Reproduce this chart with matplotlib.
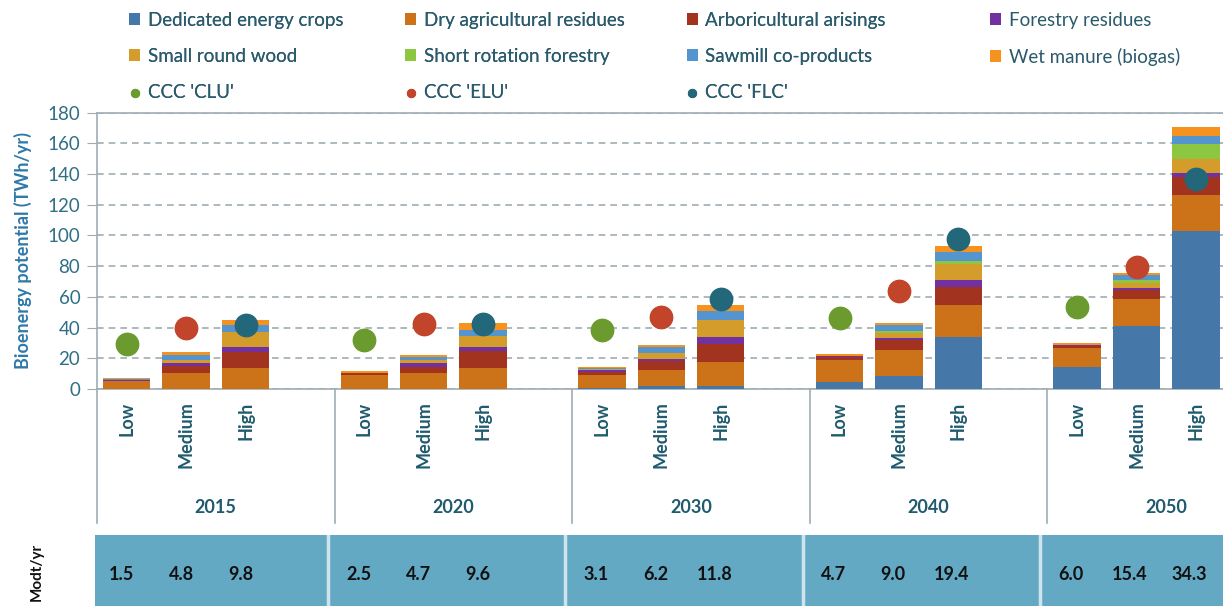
import matplotlib
matplotlib.use('Agg')
import matplotlib.pyplot as plt
import numpy as np

plt.rcParams['font.family'] = ['Lato', 'DejaVu Sans']

years = ['2015', '2020', '2030', '2040', '2050']
levels = ['Low', 'Medium', 'High']

# TWh/yr per feedstock, order: year by year, Low / Medium / High
dedicated = [0, 0, 0, 0, 0, 0, 0.6, 1.7, 2.2, 4.8, 8.7, 33.7, 14.1, 41.3, 102.8]
dry_agri = [5.0, 10.4, 13.7, 9.3, 10.4, 13.7, 8.7, 10.9, 15.4, 14.1, 17.0, 20.7, 12.4, 17.4, 23.3]
arbori = [0.5, 4.3, 10.2, 1.1, 3.9, 10.9, 1.7, 5.9, 11.7, 1.7, 5.9, 12.0, 1.5, 5.9, 12.0]
forestry = [0.3, 2.2, 3.7, 0, 2.6, 2.8, 1.3, 1.3, 4.6, 1.1, 1.7, 4.3, 0.5, 1.3, 2.8]
small_round = [0.3, 1.7, 9.3, 0, 2.2, 7.4, 0.6, 3.7, 10.9, 0, 3.3, 10.9, 0, 3.0, 8.7]
short_rot = [0, 0, 0, 0, 0, 0, 0, 0, 0, 0, 1.1, 1.5, 0, 2.2, 10.2]
sawmill = [0.6, 3.7, 4.6, 0, 2.0, 3.5, 0.8, 3.9, 5.9, 0, 3.7, 6.1, 0.4, 2.8, 4.8]
wet_manure = [0.5, 1.5, 3.3, 1.1, 1.3, 4.6, 0.6, 1.1, 4.3, 1.1, 1.7, 3.9, 0.9, 1.7, 6.1]

ccc_clu = [29, 32, 38.5, 46, 53.5]
ccc_elu = [40, 42, 47, 63.5, 79.5]
ccc_flc = [41.5, 42, 58.5, 97.5, 137]

modt = [1.5, 4.8, 9.8, 2.5, 4.7, 9.6, 3.1, 6.2, 11.8, 4.7, 9.0, 19.4, 6.0, 15.4, 34.3]

series = [
    ('Dedicated energy crops', dedicated, '#4577a8'),
    ('Dry agricultural residues', dry_agri, '#cc7319'),
    ('Arboricultural arisings', arbori, '#a2341f'),
    ('Forestry residues', forestry, '#7131a0'),
    ('Small round wood', small_round, '#d49c2b'),
    ('Short rotation forestry', short_rot, '#8dc640'),
    ('Sawmill co-products', sawmill, '#5494cf'),
    ('Wet manure (biogas)', wet_manure, '#f6931f'),
]

grid_col = '#9eadb3'
tick_col = '#2f6f86'
cat_col = '#1f5a6e'

fig = plt.figure(figsize=(12.23, 6.06), dpi=100)
ax = fig.add_axes([97 / 1223, 1 - 389 / 606, 1 - 97 / 1223, 276.5 / 606])

# bar positions: 4 units per year group, bars at 0.5 / 1.5 / 2.5
xpos = np.array([g * 4 + k + 0.5 for g in range(len(years)) for k in range(len(levels))])

bottom = np.zeros(len(xpos))
handles = []
for name, vals, col in series:
    b = ax.bar(xpos, vals, width=0.8, bottom=bottom, color=col, label=name, zorder=3)
    handles.append(b)
    bottom += np.array(vals)

group_x = np.arange(len(years)) * 4
s_clu = ax.scatter(group_x + 0.5, ccc_clu, s=260, color='#6b9a2e', zorder=5, label="CCC 'CLU'")
s_elu = ax.scatter(group_x + 1.5, ccc_elu, s=260, color='#c1442b', zorder=5, label="CCC 'ELU'")
s_flc = ax.scatter(group_x + 2.5, ccc_flc, s=260, color='#22687a', zorder=5, label="CCC 'FLC'")

ax.set_xlim(0, 1126 / 59.4)
ax.set_ylim(0, 180)
ax.set_yticks(range(0, 181, 20))
ax.yaxis.grid(True, linestyle=(0, (4, 3)), color=grid_col, linewidth=1.2, zorder=0)
ax.tick_params(axis='y', direction='out', length=7, color=grid_col, labelcolor=tick_col,
               labelsize=13.5, pad=5)
ax.set_xticks(xpos)
ax.set_xticklabels(levels * len(years), rotation=90, fontsize=13, fontweight='bold',
                   color=cat_col, va='top', ha='center')
ax.tick_params(axis='x', length=0, pad=9)
ax.spines['right'].set_visible(False)
for side in ['left', 'bottom', 'top']:
    ax.spines[side].set_color(grid_col)
    ax.spines[side].set_linewidth(1.2)
ax.set_ylabel('Bioenergy potential (TWh/yr)', fontsize=13, fontweight='bold', color='#2e79a8')
ax.yaxis.set_label_coords(-0.058, 0.5)

# group separators and year labels under the axis
trans = ax.get_xaxis_transform()
for g, yr in enumerate(years):
    ax.plot([g * 4, g * 4], [0, -0.485], transform=trans, color=grid_col, lw=1.2, clip_on=False)
    ax.text(g * 4 + 2, -0.43, yr, transform=trans, ha='center', va='center', fontsize=13,
            fontweight='bold', color=cat_col)

# Modt/yr strip
ax2 = fig.add_axes([95 / 1223, 0, 1 - 95 / 1223, 71 / 606])
ax2.set_facecolor('#64a9c4')
ax2.set_xlim(-2 / 59.4, 1128 / 59.4)
ax2.set_ylim(0, 1)
for g in range(1, len(years)):
    ax2.axvline(g * 4 - 0.1, color='#cfe3ec', lw=2.5)
for x, v in zip(xpos, modt):
    ax2.text(x - 0.08, 0.45, '%.1f' % v, ha='center', va='center', fontsize=13,
             fontweight='bold', color='#111111')
ax2.set_xticks([])
ax2.set_yticks([])
for sp in ax2.spines.values():
    sp.set_visible(False)
fig.text(37 / 1223, 1 - 572 / 606, 'Modt/yr', rotation=90, ha='center', va='center',
         fontsize=11, fontweight='bold', color='#111111')

# legend, row order as in the reference (first three columns, then the fourth)
leg_kw = dict(frameon=False, fontsize=13.5, handlelength=0.6, handleheight=0.6,
              handletextpad=0.4, labelspacing=1.0, labelcolor='#2a5a6b', markerscale=0.35,
              borderaxespad=0, borderpad=0)
left_h = [handles[0], handles[4], s_clu, handles[1], handles[5], s_elu,
          handles[2], handles[6], s_flc]
leg1 = fig.legend(left_h, [h.get_label() for h in left_h], loc='upper left',
                  bbox_to_anchor=(129 / 1223, 1 - 12 / 606), ncol=3, columnspacing=3.3, **leg_kw)
right_h = [handles[3], handles[7]]
fig.legend(right_h, [h.get_label() for h in right_h], loc='upper left',
           bbox_to_anchor=(990 / 1223, 1 - 12 / 606), ncol=1, **leg_kw)
fig.add_artist(leg1)

fig.savefig('out.png', dpi=100)
